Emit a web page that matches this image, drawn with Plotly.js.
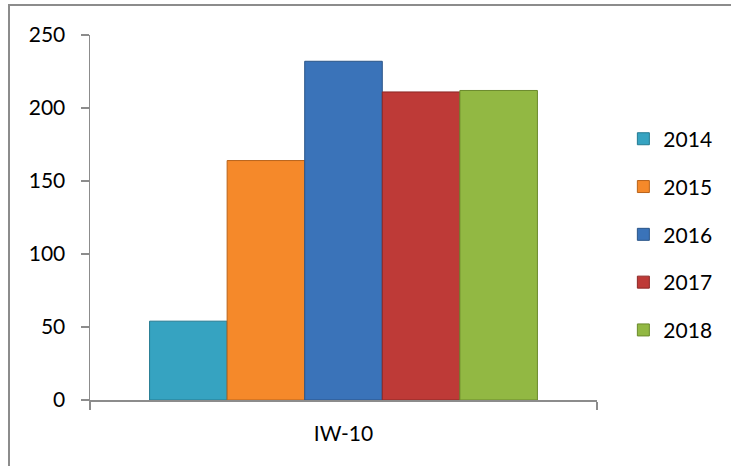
<!DOCTYPE html>
<html>
<head>
<meta charset="utf-8">
<script src="https://cdn.plot.ly/plotly-3.0.1.min.js"></script>
<style>
  html, body { margin: 0; padding: 0; background: #ffffff; overflow: hidden; }
  #wrap { position: relative; width: 731px; height: 466px; overflow: hidden; }
  #chart { width: 731px; height: 466px; }
  #frame { position: absolute; left: 8px; top: 4px; width: 900px; height: 700px;
           border: 2px solid #8c8c8c; pointer-events: none; box-sizing: border-box; }
</style>
</head>
<body>
<div id="wrap">
  <div id="chart"></div>
  <div id="frame"></div>
</div>
<script>
// ---- data ----
const categories = ["IW-10"];
const seriesNames = ["2014", "2015", "2016", "2017", "2018"];
const values2014 = [54];
const values2015 = [164];
const values2016 = [232];
const values2017 = [211];
const values2018 = [212];
const yTickVals = [0, 50, 100, 150, 200, 250];

const seriesValues = [values2014, values2015, values2016, values2017, values2018];
const fillColors = ["#36a3c1", "#f5892a", "#3a73b9", "#be3a37", "#92b843"];
const edgeColors = ["#247a91", "#b8631a", "#2a5588", "#8c2826", "#6a8a2c"];

const FONT = "Lato, 'Open Sans', sans-serif";

const traces = seriesNames.map((name, i) => ({
  type: "bar",
  name: name,
  x: categories,
  y: seriesValues[i],
  legendgroup: "g" + i,
  marker: { color: fillColors[i], line: { color: edgeColors[i], width: 1 } },
  hoverinfo: "none"
}));

const layout = {
  width: 731,
  height: 466,
  margin: { l: 90, r: 134, t: 35, b: 66, pad: 0 },
  paper_bgcolor: "#ffffff",
  plot_bgcolor: "#ffffff",
  font: { family: FONT, size: 21, color: "#000000" },
  showlegend: true,
  barmode: "group",
  bargap: 0.235,
  bargroupgap: 0,
  xaxis: {
    type: "category",
    range: [-0.5, 0.5],
    showline: true,
    linecolor: "#8c8c8c",
    linewidth: 1.5,
    ticks: "outside",
    tickson: "boundaries",
    ticklen: 8,
    tickcolor: "#8c8c8c",
    tickwidth: 1.5,
    showgrid: false,
    zeroline: false,
    ticklabelstandoff: 14,
    tickfont: { family: FONT, size: 21, color: "#000000" }
  },
  yaxis: {
    range: [0, 250],
    tickvals: yTickVals,
    ticktext: yTickVals.map(String),
    showline: true,
    linecolor: "#8c8c8c",
    linewidth: 1.5,
    ticks: "outside",
    ticklen: 8,
    tickcolor: "#8c8c8c",
    tickwidth: 1.5,
    showgrid: false,
    zeroline: false,
    ticklabelstandoff: 11,
    tickfont: { family: FONT, size: 21, color: "#000000" }
  },
  legend: {
    x: 1.052,
    xanchor: "left",
    y: 0.771,
    yanchor: "top",
    traceorder: "grouped",
    tracegroupgap: 17.5,
    font: { family: FONT, size: 21, color: "#000000" },
    bgcolor: "rgba(0,0,0,0)",
    borderwidth: 0
  }
};

Plotly.newPlot("chart", traces, layout, { staticPlot: true, displayModeBar: false });
</script>
</body>
</html>
